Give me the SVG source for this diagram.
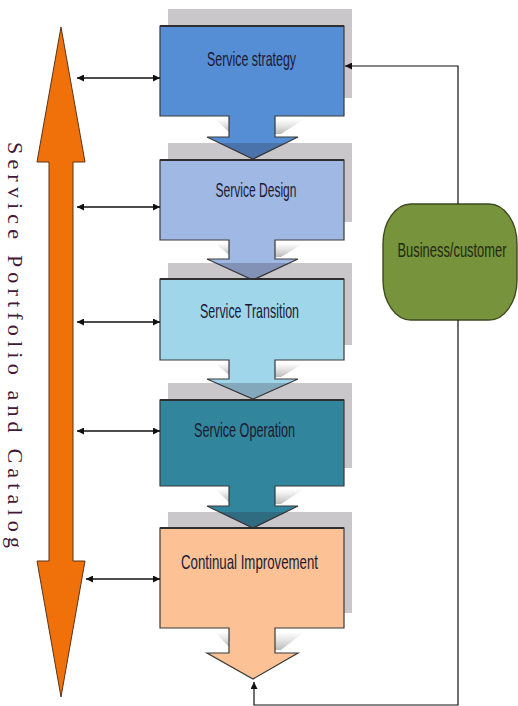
<svg xmlns="http://www.w3.org/2000/svg" width="518" height="706" viewBox="0 0 518 706">
<defs>
<style>
.shadow{fill:#2a2030;opacity:0.25}
.wedge{fill:url(#wg)}
.node{stroke:#3a3a3a;stroke-width:1.2;stroke-linejoin:miter}
.top{stroke:#2f2f2f;stroke-width:2.2}
.lbl{font-family:"Liberation Sans Narrow","Liberation Sans",Arial,sans-serif;font-size:21px;fill:#1a1a33;text-anchor:middle}
.conn{stroke:#111;stroke-width:1.6;fill:none}
.thin{stroke:#111;stroke-width:1.2;fill:none}
</style>
<linearGradient id="wg" x1="0" y1="0" x2="0" y2="1">
<stop offset="0" stop-color="#bdbdbd" stop-opacity="0"/>
<stop offset="1" stop-color="#a9a9a9" stop-opacity="0.8"/>
</linearGradient>
<marker id="ah" viewBox="0 0 10 10" refX="10" refY="5" markerWidth="7" markerHeight="7" markerUnits="userSpaceOnUse" orient="auto-start-reverse">
<path d="M0,0 L10,5 L0,10 z" fill="#111"/>
</marker>
</defs>

<rect width="518" height="706" fill="#fff"/>

<g id="portfolio">
<polygon points="61,27 85,162 73,162 73,561 85,561 61,697 37,561 49,561 49,162 37,162" fill="#f0700a" stroke="#5a3418" stroke-width="1"/>
<text transform="translate(8,142) rotate(90)" font-family="'Liberation Serif','Times New Roman',serif" font-size="22" fill="#42183a" textLength="406" lengthAdjust="spacing">Service Portfolio and Catalog</text>
</g>

<g id="strategy">
<rect class="shadow" x="168" y="9" width="184" height="89"/>
<polygon class="wedge" points="275,119 304,119 281,134 275,134"/>
<polygon class="wedge" points="215,119 229,119 229,132"/>
<polygon class="node" fill="#558ed5" points="160,26 344,26 344,116 275,116 275,137 298,137 253,159 207,137 229,137 229,116 160,116"/>
<line class="top" x1="160" y1="26" x2="344" y2="26"/>
<text class="lbl" x="251.5" y="66" textLength="89" lengthAdjust="spacingAndGlyphs">Service strategy</text>
</g>

<g id="design">
<rect class="shadow" x="168" y="143" width="184" height="79"/>
<polygon class="wedge" points="275,243 304,243 281,257 275,257"/>
<polygon class="wedge" points="215,243 229,243 229,255"/>
<polygon class="node" fill="#9fb8e4" points="160,160 344,160 344,240 275,240 275,259 298,259 253,280 207,259 229,259 229,240 160,240"/>
<line class="top" x1="160" y1="160" x2="344" y2="160"/>
<text class="lbl" x="256" y="197" textLength="81" lengthAdjust="spacingAndGlyphs">Service Design</text>
</g>

<g id="transition">
<rect class="shadow" x="168" y="263" width="184" height="82"/>
<polygon class="wedge" points="275,363 304,363 281,377 275,377"/>
<polygon class="wedge" points="215,363 229,363 229,375"/>
<polygon class="node" fill="#a0d6ea" points="160,279 344,279 344,360 275,360 275,379 298,379 253,399 207,379 229,379 229,360 160,360"/>
<line class="top" x1="160" y1="279" x2="344" y2="279"/>
<text class="lbl" x="249.5" y="318" textLength="99" lengthAdjust="spacingAndGlyphs">Service Transition</text>
</g>

<g id="operation">
<rect class="shadow" x="168" y="383" width="184" height="85"/>
<polygon class="wedge" points="275,489 304,489 281,504 275,504"/>
<polygon class="wedge" points="215,489 229,489 229,502"/>
<polygon class="node" fill="#31859c" points="160,400 344,400 344,486 275,486 275,506 298,506 253,528 207,506 229,506 229,486 160,486"/>
<line class="top" x1="160" y1="400" x2="344" y2="400"/>
<text class="lbl" x="244.5" y="437" textLength="101" lengthAdjust="spacingAndGlyphs">Service Operation</text>
</g>

<g id="improvement">
<rect class="shadow" x="168" y="512" width="184" height="101"/>
<polygon class="wedge" points="275,632 304,632 281,650 275,650"/>
<polygon class="wedge" points="215,632 229,632 229,647"/>
<polygon class="node" fill="#fcc295" points="160,528 344,528 344,628 275,628 275,653 298,653 253,679 207,653 229,653 229,628 160,628"/>
<line class="top" x1="160" y1="528" x2="344" y2="528"/>
<text class="lbl" x="249.5" y="569" textLength="137" lengthAdjust="spacingAndGlyphs">Continual Improvement</text>
</g>

<g id="business">
<rect x="383" y="204" width="134" height="116" rx="28" ry="40" fill="#77933c" stroke="#3e4a22" stroke-width="1.4"/>
<text class="lbl" transform="translate(452,257) scale(1,1.4)" x="0" y="0" textLength="109" lengthAdjust="spacingAndGlyphs" style="fill:#1f2a10;font-size:15px">Business/customer</text>
</g>

<g id="connectors">
<line class="conn" x1="77" y1="78" x2="160" y2="78" marker-start="url(#ah)" marker-end="url(#ah)"/>
<line class="conn" x1="77" y1="207" x2="160" y2="207" marker-start="url(#ah)" marker-end="url(#ah)"/>
<line class="conn" x1="77" y1="322" x2="160" y2="322" marker-start="url(#ah)" marker-end="url(#ah)"/>
<line class="conn" x1="77" y1="431" x2="160" y2="431" marker-start="url(#ah)" marker-end="url(#ah)"/>
<line class="conn" x1="86" y1="579" x2="160" y2="579" marker-start="url(#ah)" marker-end="url(#ah)"/>
<polyline class="thin" points="458,204 458,66 345,66" marker-end="url(#ah)"/>
<polyline class="thin" points="458,320 458,705 254,705 254,682" marker-end="url(#ah)"/>
</g>
</svg>
